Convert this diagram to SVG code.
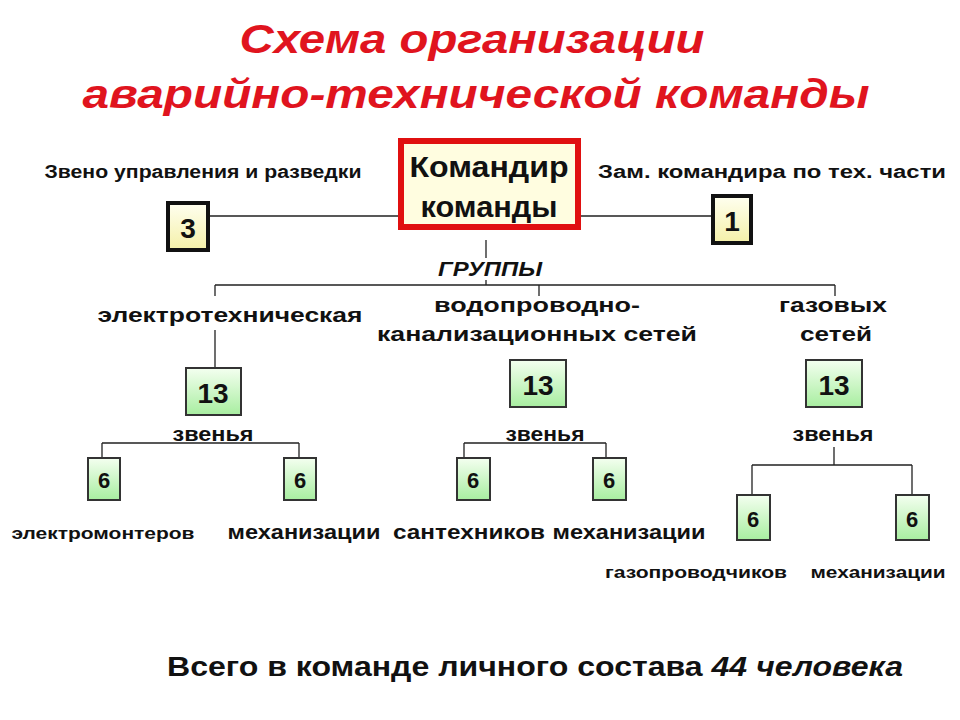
<svg xmlns="http://www.w3.org/2000/svg" width="960" height="720" viewBox="0 0 960 720">
<style>
text{font-family:"Liberation Sans",Arial,sans-serif;font-weight:bold;fill:#111;text-anchor:middle}
.t{fill:#e0141e;font-style:italic;font-size:40px}
.l{stroke:#222;stroke-width:1.3;fill:none}
.g{fill:url(#gg);stroke:#333;stroke-width:2}
.y{fill:url(#yg);stroke:#111;stroke-width:4}
</style>
<defs>
<linearGradient id="gg" x1="0" y1="0" x2="0" y2="1"><stop offset="0" stop-color="#f4fff0"/><stop offset="1" stop-color="#a8eea0"/></linearGradient>
<linearGradient id="yg" x1="0" y1="0" x2="0" y2="1"><stop offset="0" stop-color="#fffff0"/><stop offset="1" stop-color="#f4f0a8"/></linearGradient>
</defs>
<rect width="960" height="720" fill="#fff"/>
<text class="t" x="472" y="53" textLength="465" lengthAdjust="spacingAndGlyphs">Схема организации</text>
<text class="t" x="476" y="108" textLength="787" lengthAdjust="spacingAndGlyphs">аварийно-технической команды</text>
<g id="connectors" class="l">
<path d="M208 216H400M579 216H713M486 240V258M486 280V285M215 285H835M215 285V296M215 330V368M539 285V296M835 285V296M102 443H299M102 443V458M299 443V458M464 443H606M464 443V458M606 443V458M834 447V465M752 465H912M752 465V495M912 465V495"/>
</g>
<g id="cmd"><rect x="401" y="141" width="177" height="86" fill="#fffde0" stroke="#e01010" stroke-width="6"/>
<text x="489" y="177" font-size="29" textLength="159" lengthAdjust="spacingAndGlyphs">Командир</text><text x="489" y="217" font-size="29" textLength="137" lengthAdjust="spacingAndGlyphs">команды</text></g>
<g id="n3"><rect class="y" x="168" y="203" width="40" height="47"/><text x="188" y="238" font-size="28" font-weight="normal">3</text></g>
<g id="n1"><rect class="y" x="713" y="196" width="38" height="47"/><text x="732" y="231" font-size="28" font-weight="normal">1</text></g>
<text x="203" y="178" font-size="18" textLength="317" lengthAdjust="spacingAndGlyphs">Звено управления и разведки</text>
<text x="772" y="178" font-size="18" textLength="348" lengthAdjust="spacingAndGlyphs">Зам. командира по тех. части</text>
<text x="490" y="276" font-size="20" font-style="italic" textLength="104" lengthAdjust="spacingAndGlyphs">ГРУППЫ</text>
<text x="230" y="322" font-size="21" textLength="265" lengthAdjust="spacingAndGlyphs">электротехническая</text>
<text x="537" y="312" font-size="21" textLength="206" lengthAdjust="spacingAndGlyphs">водопроводно-</text>
<text x="537" y="341" font-size="21" textLength="320" lengthAdjust="spacingAndGlyphs">канализационных сетей</text>
<text x="833" y="312" font-size="21" textLength="108" lengthAdjust="spacingAndGlyphs">газовых</text>
<text x="836" y="341" font-size="21" textLength="72" lengthAdjust="spacingAndGlyphs">сетей</text>
<g id="g1"><rect class="g" x="186" y="368" width="55" height="47"/><text x="213" y="403" font-size="28">13</text></g>
<g id="g2"><rect class="g" x="510" y="360" width="56" height="47"/><text x="538" y="395" font-size="28">13</text></g>
<g id="g3"><rect class="g" x="806" y="360" width="56" height="47"/><text x="834" y="395" font-size="28">13</text></g>
<text x="213" y="441" font-size="20" textLength="81" lengthAdjust="spacingAndGlyphs">звенья</text>
<text x="545" y="441" font-size="20" textLength="79" lengthAdjust="spacingAndGlyphs">звенья</text>
<text x="833" y="441" font-size="20" textLength="81" lengthAdjust="spacingAndGlyphs">звенья</text>
<g id="z1"><rect class="g" x="88" y="458" width="32" height="42"/><text x="104" y="488" font-size="22">6</text></g>
<g id="z2"><rect class="g" x="284" y="458" width="32" height="42"/><text x="300" y="488" font-size="22">6</text></g>
<g id="z3"><rect class="g" x="457" y="458" width="33" height="42"/><text x="473" y="488" font-size="22">6</text></g>
<g id="z4"><rect class="g" x="593" y="458" width="33" height="42"/><text x="609" y="488" font-size="22">6</text></g>
<g id="z5"><rect class="g" x="737" y="495" width="33" height="45"/><text x="753" y="527" font-size="22">6</text></g>
<g id="z6"><rect class="g" x="896" y="495" width="33" height="45"/><text x="912" y="527" font-size="22">6</text></g>
<text x="103" y="539" font-size="16" textLength="183" lengthAdjust="spacingAndGlyphs">электромонтеров</text>
<text x="304" y="539" font-size="20" textLength="153" lengthAdjust="spacingAndGlyphs">механизации</text>
<text x="469" y="539" font-size="20" textLength="152" lengthAdjust="spacingAndGlyphs">сантехников</text>
<text x="629" y="539" font-size="20" textLength="153" lengthAdjust="spacingAndGlyphs">механизации</text>
<text x="696" y="578" font-size="16" textLength="182" lengthAdjust="spacingAndGlyphs">газопроводчиков</text>
<text x="878" y="578" font-size="16" textLength="135" lengthAdjust="spacingAndGlyphs">механизации</text>
<text x="535" y="676" font-size="27" textLength="736" lengthAdjust="spacingAndGlyphs">Всего в команде личного состава <tspan font-style="italic">44 человека</tspan></text>
</svg>
